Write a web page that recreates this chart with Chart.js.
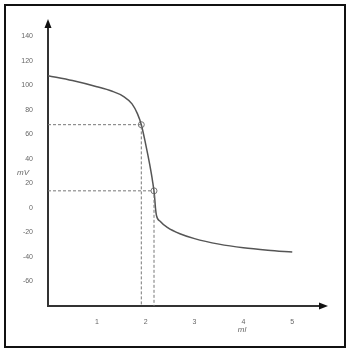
<!DOCTYPE html>
<html>
<head>
<meta charset="utf-8">
<script src="https://cdn.jsdelivr.net/npm/chart.js@4.4.0/dist/chart.umd.min.js"></script>
<style>
    html, body { margin: 0; padding: 0; background: #fff; }
    #wrap { position: relative; width: 355px; height: 361px; }
    #frame {
        position: absolute; left: 4px; top: 4px; width: 338px; height: 340px;
        border: 2px solid #111; pointer-events: none;
    }
    canvas { position: absolute; left: 0; top: 0; }
</style>
</head>
<body>
<div id="wrap">
    <canvas id="titration" width="355" height="361"></canvas>
    <div id="frame"></div>
</div>
<script>
// Titration curve (ml added vs mV)
const curveX = [0, 0.5, 1.0, 1.3, 1.55, 1.72, 1.83, 1.91, 2.0, 2.08, 2.14, 2.18, 2.2, 2.22, 2.3, 2.45, 2.7, 3.0, 3.5, 4.0, 4.5, 5.0];
const curveY = [108, 104, 99, 95.5, 91, 85, 77, 68, 52, 36, 22, 10, 0, -6, -11, -16, -21, -25, -29.5, -32.5, -34.5, -36];

// marked points
const markX = [1.91, 2.17];
const markY = [68, 14];

const yTicks = [-60, -40, -20, 0, 20, 40, 60, 80, 100, 120, 140];
const xTicks = [1, 2, 3, 4, 5];

const X_MIN = 0, X_MAX = 5.65;
const Y_MIN = -80, Y_MAX = 151;

const toPts = (xs, ys) => xs.map((x, i) => ({ x: x, y: ys[i] }));

// dashed guide lines from each mark to both axes
const guides = markX.map((mx, i) => ({
    data: [{ x: X_MIN, y: markY[i] }, { x: mx, y: markY[i] }, { x: mx, y: Y_MIN }],
    borderColor: '#777',
    borderWidth: 1,
    borderDash: [3, 2],
    pointRadius: 0,
    showLine: true,
    fill: false
}));

const axisDecor = {
    id: 'axisDecor',
    afterDraw(chart) {
        const ctx = chart.ctx;
        const a = chart.chartArea;
        ctx.save();
        ctx.fillStyle = '#111';
        // arrow on y axis
        ctx.beginPath();
        ctx.moveTo(a.left, a.top - 4);
        ctx.lineTo(a.left - 3.5, a.top + 5);
        ctx.lineTo(a.left + 3.5, a.top + 5);
        ctx.closePath();
        ctx.fill();
        // arrow on x axis
        ctx.beginPath();
        ctx.moveTo(a.right + 4, a.bottom);
        ctx.lineTo(a.right - 5, a.bottom - 3.5);
        ctx.lineTo(a.right - 5, a.bottom + 3.5);
        ctx.closePath();
        ctx.fill();
        // axis titles
        ctx.fillStyle = '#666';
        ctx.font = 'italic 8px "Liberation Sans", Arial, sans-serif';
        ctx.textAlign = 'center';
        ctx.textBaseline = 'middle';
        ctx.fillText('mV', 23, 173);
        ctx.fillText('ml', 242, 330);
        ctx.restore();
    }
};

document.addEventListener('DOMContentLoaded', function() {
    const ctx = document.getElementById('titration').getContext('2d');

    new Chart(ctx, {
        type: 'scatter',
        data: {
            datasets: [
                ...guides,
                {
                    data: toPts(curveX, curveY),
                    borderColor: '#555',
                    borderWidth: 1.5,
                    pointRadius: 0,
                    showLine: true,
                    cubicInterpolationMode: 'monotone',
                    fill: false
                },
                {
                    data: toPts(markX, markY),
                    pointRadius: 3,
                    pointBackgroundColor: '#fff',
                    pointBorderColor: '#777',
                    pointBorderWidth: 1,
                    showLine: false
                }
            ]
        },
        options: {
            responsive: false,
            animation: false,
            layout: { padding: { left: 4, top: 23, right: 31, bottom: 15 } },
            plugins: {
                legend: { display: false },
                tooltip: { enabled: false }
            },
            scales: {
                x: {
                    type: 'linear',
                    min: X_MIN,
                    max: X_MAX,
                    afterBuildTicks: s => { s.ticks = xTicks.map(v => ({ value: v })); },
                    afterFit: s => { s.height = 40; },
                    grid: { display: false },
                    border: { display: true, color: '#333', width: 2 },
                    ticks: {
                        color: '#666',
                        padding: 4,
                        font: { size: 7, family: '"Liberation Sans", Arial, sans-serif' }
                    }
                },
                y: {
                    type: 'linear',
                    min: Y_MIN,
                    max: Y_MAX,
                    afterBuildTicks: s => { s.ticks = yTicks.map(v => ({ value: v })); },
                    afterFit: s => { s.width = 44; },
                    grid: { display: false },
                    border: { display: true, color: '#333', width: 2 },
                    ticks: {
                        color: '#666',
                        padding: 7,
                        font: { size: 7, family: '"Liberation Sans", Arial, sans-serif' }
                    }
                }
            }
        },
        plugins: [axisDecor]
    });
});
</script>
</body>
</html>
